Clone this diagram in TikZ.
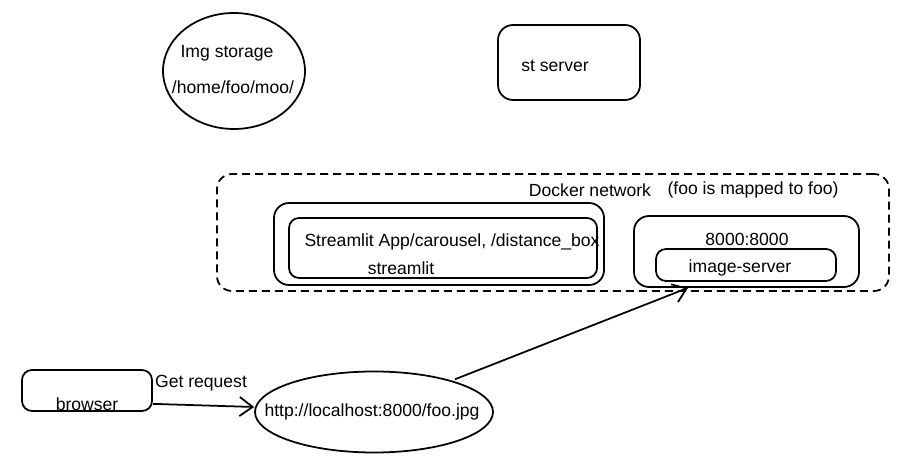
\documentclass[tikz,border=0pt]{standalone}
\usepackage{fontspec}
\setmainfont{Liberation Sans}
\usetikzlibrary{shapes.geometric,arrows.meta}

\begin{document}
\begin{tikzpicture}[x=0.2mm, y=-0.2mm,
    label/.style={inner sep=0pt, font=\fontsize{10}{12}\selectfont},
    box/.style={draw, line width=1pt, rounded corners=3mm, inner sep=0pt},
    blob/.style={draw, ellipse, line width=1pt, inner sep=0pt},
    link/.style={-{Straight Barb[length=2.6mm,width=3.8mm]}, line width=1pt}]
    \useasboundingbox (0,0) rectangle (915,466);

    % Storage and server at the top
    \node[blob, minimum width=28.4mm, minimum height=23.2mm] (storage) at (234,71) {};
    \node[label] (storagename) at (227,53) {Img storage};
    \node[label] (storagepath) at (233,87) {/home/foo/moo/};
    \node[box, minimum width=28.4mm, minimum height=15mm] (stserver) at (569,62.5) {};
    \node[label] (stservername) at (555,66) {st server};

    % Docker network
    \node[box, dashed, dash pattern=on 1.6mm off 1mm, minimum width=134.4mm, minimum height=23.4mm] (docker) at (553,232.5) {};
    \node[label] (dockername) at (590,190) {Docker network};
    \node[label] (dockernote) at (753,190) {(foo is mapped to foo)};

    % Streamlit container
    \node[box, minimum width=66mm, minimum height=16.4mm] (stouter) at (439,244) {};
    \node[box, rounded corners=2mm, minimum width=61.6mm, minimum height=12mm] (stinner) at (443,248) {};
    \node[label] (stapp) at (452,242) {Streamlit App/carousel, /distance\_box};
    \node[label] (stname) at (401,268) {streamlit};

    % Image server container
    \node[box, minimum width=45mm, minimum height=14.2mm] (imgouter) at (746.5,251.5) {};
    \node[label] (imgport) at (747,239) {8000:8000};
    \node[box, rounded corners=2mm, minimum width=36mm, minimum height=6.4mm] (imginner) at (746,265) {};
    \node[label] (imgname) at (740,268) {image-server};

    % Browser and request
    \node[box, rounded corners=2mm, minimum width=26mm, minimum height=8.2mm] (browser) at (87,390.5) {};
    \node[label] (browsername) at (87,404) {browser};
    \node[blob, minimum width=47.6mm, minimum height=16.2mm] (url) at (374,412) {};
    \node[label] (urlname) at (372,412) {http://localhost:8000/foo.jpg};
    \node[label] (getname) at (201,383) {Get request};

    \draw[link] ([yshift=1.6mm]browser.south east) -- ([yshift=1mm]url.west);
    \draw[link] ([xshift=1.5mm]url.24) -- ([xshift=-11.7mm]imgouter.south);
\end{tikzpicture}
\end{document}
